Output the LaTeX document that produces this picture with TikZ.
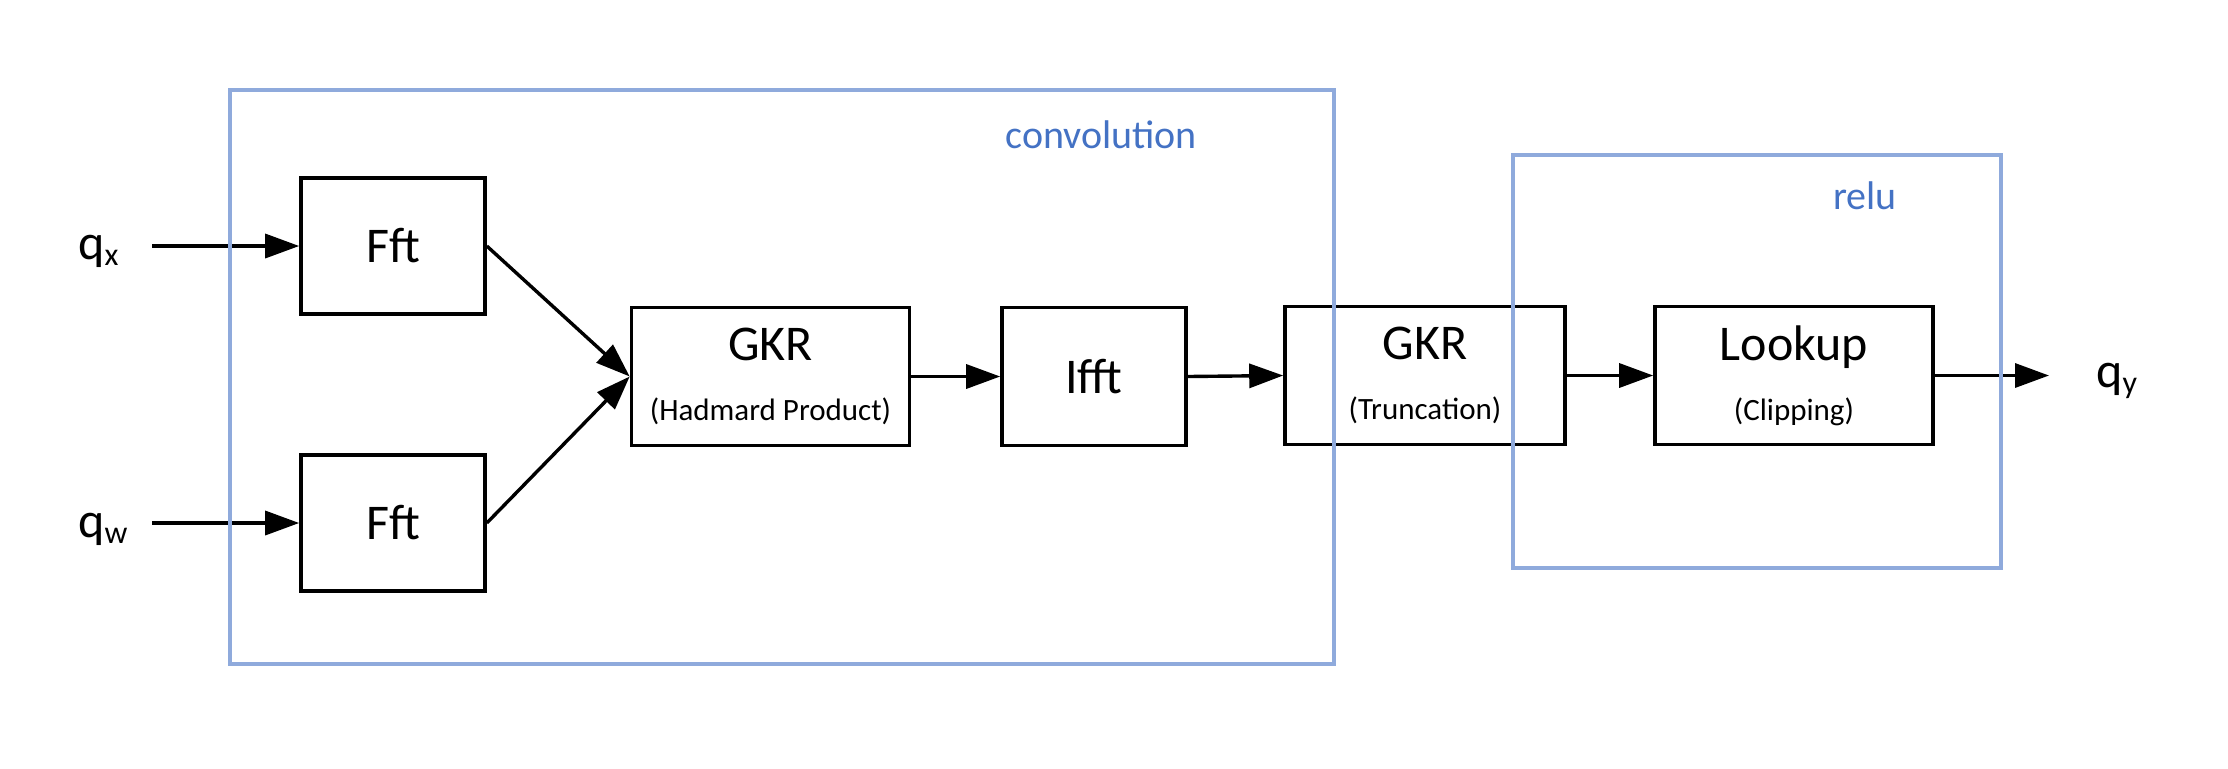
\documentclass[tikz,border=0pt]{standalone}
\usepackage{fontspec}
\setmainfont{Carlito}
\usetikzlibrary{arrows.meta}
\definecolor{boxblue}{HTML}{8FAADC}
\definecolor{txtblue}{HTML}{4472C4}
\begin{document}
\begin{tikzpicture}[x=0.5pt,y=-0.5pt,
  blk/.style={draw=black, line width=1.8pt, fill=white, inner sep=0pt, align=center,
    font=\fontsize{25}{28}\selectfont},
  fftbox/.style={blk, minimum width=92pt, minimum height=68pt},
  widebox/.style={blk, minimum width=139pt, minimum height=69pt},
  grp/.style={draw=boxblue, line width=1.6pt},
  grptext/.style={text=txtblue, font=\fontsize{20}{24}\selectfont, anchor=base west, inner sep=0pt},
  iolabel/.style={font=\fontsize{25}{28}\selectfont, anchor=base west, inner sep=0pt},
  arr/.style={line width=1.7pt, -{Triangle[length=17pt,width=12pt]}},
]
\useasboundingbox (0,0) rectangle (2228,768);

% blocks
\node[fftbox] (fft1) at (393,246) {Fft};
\node[fftbox] (fft2) at (393,523) {Fft};
\node[widebox] (gkr1) at (770.5,376.5) {GKR\\[2pt]{\fontsize{15.5}{18}\selectfont (Hadmard Product)}};
\node[fftbox, minimum height=69pt] (ifft) at (1094,376.5) {Ifft};
\node[widebox, minimum width=140pt] (gkr2) at (1425,375.5) {GKR\\[2pt]{\fontsize{15.5}{18}\selectfont (Truncation)}};
\node[widebox] (lookup) at (1794,375.5) {Lookup\\[2pt]{\fontsize{15.5}{18}\selectfont (Clipping)}};

% io labels
\node[iolabel] (qx) at (78,259) {q\raisebox{-3pt}{\fontsize{16}{16}\selectfont x}};
\node[iolabel] (qw) at (78,537) {q\raisebox{-3pt}{\fontsize{16}{16}\selectfont w}};
\node[iolabel] (qy) at (2096,387) {q\raisebox{-3pt}{\fontsize{16}{16}\selectfont y}};
\coordinate (qxs) at (152,246);
\coordinate (qws) at (152,523);
\coordinate (qye) at (2049,375.5);

% connectors
\draw[arr] (qxs) -- (fft1.west);
\draw[arr] (qws) -- (fft2.west);
\draw[arr] (fft1.east) -- (gkr1.west);
\draw[arr] (fft2.east) -- (gkr1.west);
\draw[arr] (gkr1.east) -- (ifft.west);
\draw[arr] (ifft.east) -- (gkr2.west);
\draw[arr] (gkr2.east) -- (lookup.west);
\draw[arr] (lookup.east) -- (qye);

% groups
\draw[grp] (230,90) rectangle (1334,664);
\draw[grp] (1513,155) rectangle (2001,568);
\node[grptext] (convlabel) at (1005,148) {convolution};
\node[grptext] (relulabel) at (1833,209) {relu};
\end{tikzpicture}
\end{document}
